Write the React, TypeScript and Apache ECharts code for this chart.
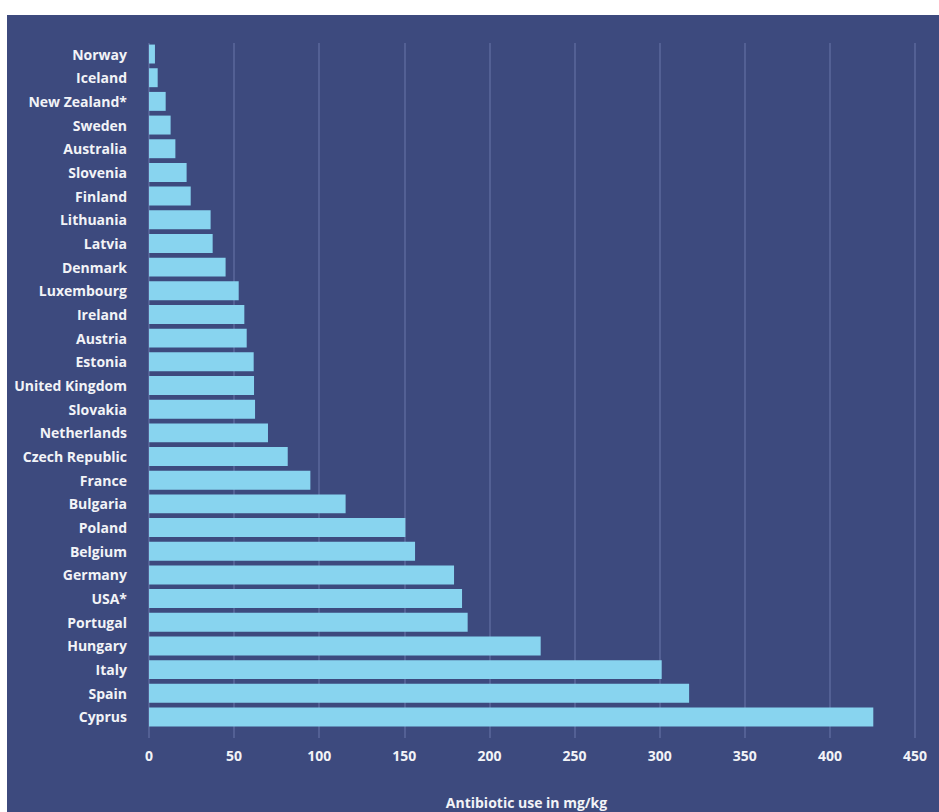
import React, { useEffect, useRef } from "react";
import * as echarts from "echarts";

const countries = [
  "Norway", "Iceland", "New Zealand*", "Sweden", "Australia", "Slovenia", "Finland",
  "Lithuania", "Latvia", "Denmark", "Luxembourg", "Ireland", "Austria", "Estonia",
  "United Kingdom", "Slovakia", "Netherlands", "Czech Republic", "France", "Bulgaria",
  "Poland", "Belgium", "Germany", "USA*", "Portugal", "Hungary", "Italy", "Spain", "Cyprus",
];
const usage = [
  3.5, 5.1, 9.8, 12.7, 15.5, 22.1, 24.5, 36.2, 37.4, 45.0, 52.7, 56.0, 57.4, 61.5,
  61.7, 62.3, 69.9, 81.5, 94.8, 115.5, 150.6, 156.3, 179.2, 183.9, 187.2, 230.1,
  301.2, 317.3, 425.5,
];
const xTicks = [0, 50, 100, 150, 200, 250, 300, 350, 400, 450];
const axisTitle = "Antibiotic use in mg/kg";

const FONT = "'Open Sans', 'Noto Sans', sans-serif";
const BG = "#3d4a7e";
const BAR = "#88d4ef";
const GRID = "#5b689c";
const TXT = "#f2f3f7";

export default function App() {
  const ref = useRef<HTMLDivElement>(null);
  useEffect(() => {
    if (!ref.current) return;
    const chart = echarts.init(ref.current, null, { renderer: "svg" });
    chart.setOption({
      animation: false,
      backgroundColor: BG,
      textStyle: { fontFamily: FONT },
      grid: [
        { left: 142, right: 24, top: 27.2, bottom: 83.2 },
        { left: 142, right: 24, top: 28, bottom: 74 },
      ],
      xAxis: [
        {
          gridIndex: 0,
          type: "value",
          min: 0,
          max: 450,
          interval: 50,
          axisLine: { show: false },
          axisTick: { show: false },
          axisLabel: { show: false },
          splitLine: { show: false },
        },
        {
          gridIndex: 1,
          type: "value",
          min: 0,
          max: 450,
          interval: 50,
          axisLine: { show: false },
          axisTick: { show: false },
          axisLabel: {
            color: TXT,
            fontFamily: FONT,
            fontWeight: "bold",
            fontSize: 14,
            margin: 10,
            formatter: (v: number) => (xTicks.includes(v) ? String(v) : ""),
          },
          splitLine: { show: true, lineStyle: { color: GRID, width: 1.5 } },
        },
      ],
      yAxis: [
        {
          gridIndex: 0,
          type: "category",
          data: countries,
          inverse: true,
          axisLine: { show: false },
          axisTick: { show: false },
          axisLabel: {
            color: TXT,
            fontFamily: FONT,
            fontWeight: "bold",
            fontSize: 14,
            margin: 22,
          },
        },
        {
          gridIndex: 1,
          type: "category",
          data: countries,
          show: false,
        },
      ],
      graphic: [
        {
          type: "text",
          x: 519.5,
          y: 787,
          style: {
            text: axisTitle,
            fill: TXT,
            font: `bold 14px ${FONT}`,
            textAlign: "center",
            textVerticalAlign: "middle",
          },
        },
      ],
      series: [
        {
          type: "bar",
          xAxisIndex: 0,
          yAxisIndex: 0,
          data: usage,
          barCategoryGap: "20%",
          itemStyle: { color: BAR },
          z: 3,
        },
      ],
    });
    return () => chart.dispose();
  }, []);
  return (
    <div style={{ position: "absolute", left: 0, top: 0, width: 939, height: 812, background: "#ffffff" }}>
      <div ref={ref} style={{ position: "absolute", left: 7, top: 15, width: 932, height: 797 }} />
    </div>
  );
}
